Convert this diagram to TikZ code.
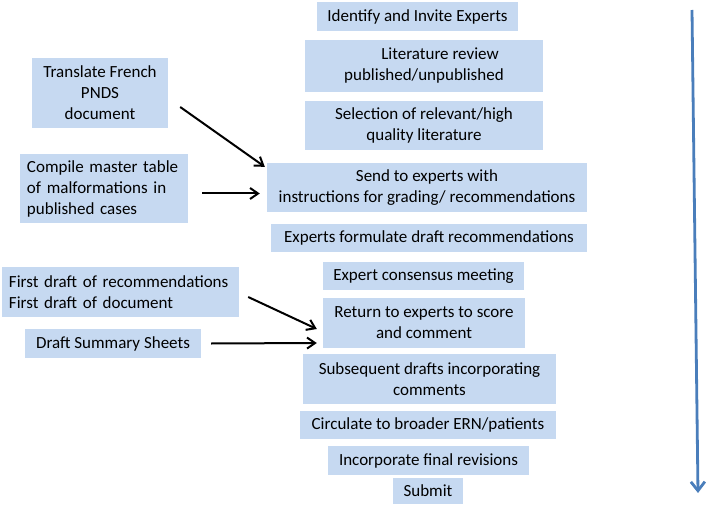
\documentclass[tikz,border=0pt]{standalone}
\usepackage{fontspec}
\setmainfont{Carlito}
\usepackage{xcolor}
\usepackage{tikz}
\usetikzlibrary{arrows.meta, positioning, calc}
\definecolor{boxblue}{HTML}{C6D9F1}
\definecolor{lineblue}{HTML}{4A7EBB}
\tikzset{
  box/.style={fill=boxblue, inner sep=0pt, align=center,
              font=\fontsize{17}{21}\selectfont},
  leftbox/.style={box, align=left, inner xsep=#1},
  flow/.style={-{Straight Barb[length=8pt, width=11pt]}, line width=2pt, color=black},
  timeline/.style={-{Straight Barb[length=9pt, width=14pt]}, line width=2.8pt, color=lineblue},
}

\begin{document}
\begin{tikzpicture}[x=1pt, y=-1pt,
  sz/.style 2 args={minimum width=#1, minimum height=#2}]
  \useasboundingbox (0,0) rectangle (709,505);
  % main column
  \node[box, sz={201}{29}] (identify)  at (417.5,16.5) {Identify and Invite Experts};
  \node[box, sz={238}{52}] (litrev)    at (424,66)     {\hspace*{32pt}Literature review\\published/unpublished};
  \node[box, sz={238}{49}] (select)    at (424,125.5)  {Selection of relevant/high\\quality literature};
  \node[box, sz={320}{49}] (send)      at (427,187.5)  {Send to experts with\\instructions for grading/ recommendations};
  \node[box, sz={316}{28}] (formulate) at (429,238)    {Experts formulate draft recommendations};
  \node[box, sz={201}{28}] (consensus) at (423.5,276)  {Expert consensus meeting};
  \node[box, sz={202}{50}] (return)    at (424,323)    {Return to experts to score\\and comment};
  \node[box, sz={253}{50}] (subseq)    at (429.5,379)  {Subsequent drafts incorporating\\comments};
  \node[box, sz={256}{28}] (circulate) at (428,425)    {Circulate to broader ERN/patients};
  \node[box, sz={201}{29}] (finalrev)  at (428.5,460.5){Incorporate final revisions};
  \node[box, sz={70}{26}]  (submit)    at (428,491)    {Submit};
  % side inputs
  \node[box, sz={136}{70}] (translate) at (100,93)     {Translate French\\PNDS\\document};
  \node[leftbox=7pt, sz={168}{69}, text width=154pt] (compile) at (104,188.5)
       {Compile master table\\of malformations in\\published cases};
  \node[leftbox=7pt, sz={237}{50}, text width=223pt] (firstdraft) at (120.5,292)
       {First draft of recommendations\\First draft of document};
  \node[box, sz={176}{29}] (summary)   at (113,343.5)  {Draft Summary Sheets};
  \draw[flow] ($(translate.east)+(12,14)$) -- ($(send.north west)+(-2,4)$);
  \draw[flow] ($(compile.east)+(14,5)$) -- ($(send.west)+(-7,6)$);
  \draw[flow] ($(firstdraft.east)+(9,5)$) -- ($(return.west)+(-6,6)$);
  \draw[flow] ($(summary.east)+(10,0)$) -- ($(return.west)+(-6,20)$);
  % time axis
  \coordinate (start) at (692,10);
  \coordinate (finish) at (698,493);
  \draw[timeline] (start) -- (finish);
\end{tikzpicture}
\end{document}
